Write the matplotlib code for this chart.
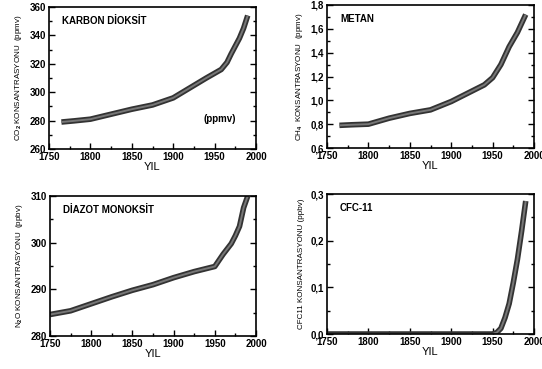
import numpy as np
import matplotlib.pyplot as plt
from matplotlib.ticker import MultipleLocator, FuncFormatter

plt.rcParams['font.family'] = ['Liberation Sans', 'DejaVu Sans']
plt.rcParams['font.weight'] = 'bold'
plt.rcParams['mathtext.fontset'] = 'custom'
plt.rcParams['mathtext.rm'] = 'Liberation Sans:bold'
plt.rcParams['mathtext.default'] = 'rm'

co2_year = [1765, 1780, 1800, 1825, 1850, 1875, 1900, 1920, 1940, 1958, 1965, 1970, 1980, 1985, 1990]
co2_val = [279, 279.8, 281, 284.5, 288, 291, 296, 303, 310, 316, 321, 327, 338, 345, 354]

ch4_year = [1765, 1780, 1800, 1825, 1850, 1875, 1900, 1920, 1940, 1950, 1960, 1970, 1980, 1990]
ch4_val = [0.79, 0.795, 0.80, 0.85, 0.89, 0.92, 0.99, 1.06, 1.13, 1.19, 1.30, 1.45, 1.57, 1.72]

n2o_year = [1750, 1775, 1800, 1825, 1850, 1875, 1900, 1925, 1950, 1960, 1970, 1975, 1980, 1985, 1990]
n2o_val = [284.6, 285.4, 286.9, 288.4, 289.8, 291.0, 292.5, 293.8, 294.9, 297.5, 299.8, 301.5, 303.5, 307.5, 310]

cfc_year = [1750, 1950, 1955, 1960, 1965, 1970, 1975, 1980, 1985, 1990]
cfc_val = [0.0, 0.0, 0.003, 0.012, 0.035, 0.065, 0.11, 0.16, 0.22, 0.285]

panels = [
    # (rect in px: left, top, right, bottom), data, ylim, major, minor, ylabel, title, decimals
    ((49, 7, 256, 149), co2_year, co2_val, (260, 360), 20, 10,
     'CO$_2$ KONSANTRASYONU  (ppmv)', 'KARBON DİOKSİT', 0),
    ((327, 5, 534, 148), ch4_year, ch4_val, (0.6, 1.8), 0.2, 0.1,
     'CH$_4$  KONSANTRASYONU  (ppmv)', 'METAN', 1),
    ((50, 196, 256, 336), n2o_year, n2o_val, (280, 310), 10, 5,
     'N$_2$O KONSANTRASYONU  (ppbv)', 'DİAZOT MONOKSİT', 0),
    ((327, 194, 534, 334), cfc_year, cfc_val, (0.0, 0.3), 0.1, 0.05,
     'CFC11 KONSANTRASYONU (ppbv)', 'CFC-11', 1),
]

W, H = 542, 369
fig = plt.figure(figsize=(W / 100, H / 100), dpi=100)

for rect, xs, ys, ylim, major, minor, ylabel, title, dec in panels:
    l, t, r, b = rect
    ax = fig.add_axes([l / W, 1 - b / H, (r - l) / W, (b - t) / H])
    ax.plot(xs, ys, color='#333333', lw=4.0, solid_capstyle='butt')
    ax.plot(xs, ys, color='#777777', lw=1.4, solid_capstyle='butt')
    ax.set_xlim(1750, 2000)
    ax.set_ylim(*ylim)
    ax.xaxis.set_major_locator(MultipleLocator(50))
    ax.xaxis.set_minor_locator(MultipleLocator(25))
    ax.yaxis.set_major_locator(MultipleLocator(major))
    ax.yaxis.set_minor_locator(MultipleLocator(minor))
    ax.yaxis.set_major_formatter(FuncFormatter(
        lambda v, p, d=dec: ('{:.%df}' % d).format(v).replace('.', ',')))
    ax.tick_params(which='both', direction='in', right=True, top=False,
                   labelsize=7, width=1, pad=2)
    ax.tick_params(which='major', length=4)
    ax.tick_params(which='minor', length=2.5)
    for s in ax.spines.values():
        s.set_linewidth(1.2)
    ax.set_xlabel('YIL', fontsize=8, labelpad=0)
    ax.set_ylabel(ylabel, fontsize=5.8, labelpad=4)
    ax.text(0.063, 0.9, title, transform=ax.transAxes, fontsize=7,
            va='center', ha='left')
    if title == 'KARBON DİOKSİT':
        ax.text(1956, 281, '(ppmv)', fontsize=7, ha='center', va='center')

fig.savefig('out.png', dpi=100, facecolor='white')
